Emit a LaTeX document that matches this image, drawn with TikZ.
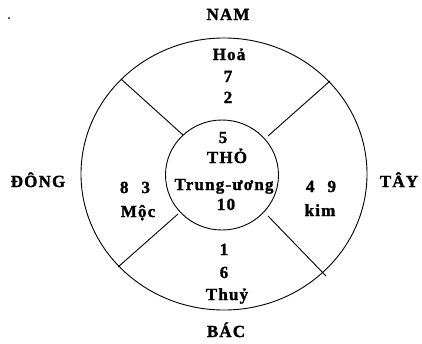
\documentclass[tikz,border=0pt]{standalone}
\usepackage{fontspec}
\setmainfont{Liberation Serif}
\newfontfamily\lblfont[LetterSpace=7, BoldFeatures={FakeBold=1.5}]{Liberation Serif}
\begin{document}
\begin{tikzpicture}[
    x=1pt, y=-1pt,
    lbl/.style={font=\lblfont\fontsize{17}{19}\selectfont\bfseries, inner sep=0pt, anchor=base},
    ring/.style={line width=0.9pt}
    ]

    \useasboundingbox (0,0) rectangle (422,343);

    % the two circles
    \draw[ring] (224,174) ellipse [x radius=143, y radius=136];
    \draw[ring] (222,175) ellipse [x radius=56.5, y radius=55];

    % ends of the four spokes
    \coordinate (inNW) at (183,135);
    \coordinate (outNW) at (121,79);
    \coordinate (inNE) at (268,136);
    \coordinate (outNE) at (330,81);
    \coordinate (inSW) at (178,214);
    \coordinate (outSW) at (118,267);
    \coordinate (inSE) at (268,216);
    \coordinate (outSE) at (326,276);

    \draw[ring] (inNW) -- (outNW);
    \draw[ring] (inNE) -- (outNE);
    \draw[ring] (inSW) -- (outSW);
    \draw[ring] (inSE) -- (outSE);

    % directions
    \node[lbl] (nam) at (228,20) {NAM};
    \node[lbl] (bac) at (226,337) {BÁC};
    \node[lbl] (dong) at (38,187) {ĐÔNG};
    \node[lbl] (tay) at (399,187) {TÂY};

    % south part (top)
    \node[lbl] (hoa) at (229,60) {Hoả};
    \node[lbl] (n7) at (228,82) {7};
    \node[lbl] (n2) at (228,103) {2};

    % centre
    \node[lbl] (n5) at (223,143) {5};
    \node[lbl] (tho) at (227,163) {THỎ};
    \node[lbl] (trung) at (224,190) {Trung-ương};
    \node[lbl] (n10) at (226,210) {10};

    % north part (bottom)
    \node[lbl] (n1) at (224,255) {1};
    \node[lbl] (n6) at (224,278) {6};
    \node[lbl] (thuy) at (227,300) {Thuỷ};

    % east and west
    \node[lbl] (n83) at (135,193) {8\hspace{13pt}3};
    \node[lbl] (moc) at (138,217) {Mộc};
    \node[lbl] (n49) at (321,192) {4\hspace{13pt}9};
    \node[lbl] (kim) at (320,216) {kim};

    \fill (9,18) circle (1pt);

\end{tikzpicture}
\end{document}
